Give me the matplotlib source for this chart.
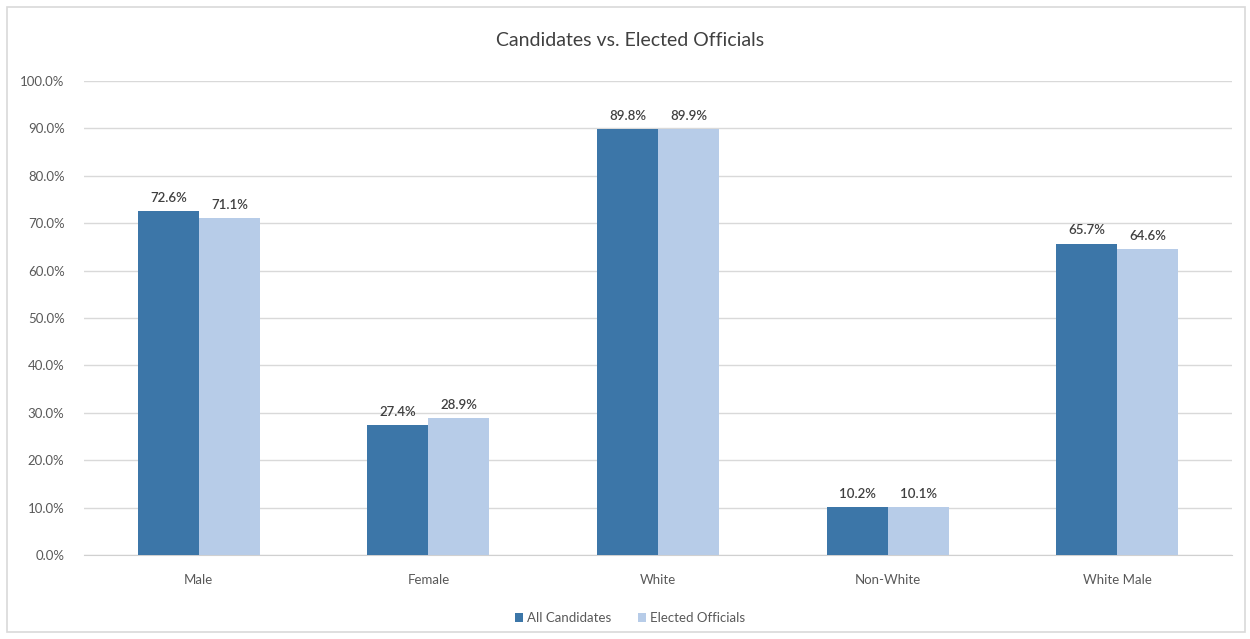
import numpy as np
import matplotlib.pyplot as plt
from matplotlib.patches import Rectangle

plt.rcParams['font.family'] = ['Lato', 'DejaVu Sans']

categories = ["Male", "Female", "White", "Non-White", "White Male"]
all_candidates = [72.6, 27.4, 89.8, 10.2, 65.7]
elected_officials = [71.1, 28.9, 89.9, 10.1, 64.6]

dark = "#3c76a8"
light = "#b7cce8"
text_col = "#595959"

fig = plt.figure(figsize=(12.5, 6.39), dpi=100)
fig.patches.append(Rectangle((7 / 1250, 7 / 639), 1238 / 1250, 625 / 639,
                             transform=fig.transFigure, fill=False,
                             edgecolor="#d9d9d9", linewidth=1.2))

ax = fig.add_axes([84 / 1250, 1 - 555 / 639, 1148 / 1250, 474 / 639])

x = np.arange(len(categories))
w = 0.266
b1 = ax.bar(x - w / 2, all_candidates, w, color=dark, label="All Candidates", zorder=3)
b2 = ax.bar(x + w / 2, elected_officials, w, color=light, label="Elected Officials", zorder=3)

# value labels above each bar
for bars, vals in ((b1, all_candidates), (b2, elected_officials)):
    for r, v in zip(bars, vals):
        ax.text(r.get_x() + r.get_width() / 2, v + 1.5, f"{v:.1f}%",
                ha="center", va="bottom", fontsize=9.5, color="#404040",
                fontweight="semibold")

ax.set_xlim(-0.5, len(categories) - 0.5)
ax.set_ylim(0, 100)
ax.set_yticks(np.arange(0, 101, 10))
ax.set_yticklabels([f"{t:.1f}%" for t in np.arange(0, 101, 10)])
ax.set_xticks(x)
ax.set_xticklabels(categories)
ax.tick_params(length=0, labelsize=9.5, colors=text_col)
ax.tick_params(axis="y", pad=14)
ax.tick_params(axis="x", pad=14)
ax.grid(axis="y", color="#d9d9d9", linewidth=1, zorder=0)
for s in ("top", "right", "left"):
    ax.spines[s].set_visible(False)
ax.spines["bottom"].set_color("#d0d0d0")

fig.text(630 / 1250, 1 - 40 / 639, "Candidates vs. Elected Officials",
         ha="center", va="center", fontsize=14, color="#404040")

fig.legend(loc="center", bbox_to_anchor=(630 / 1250, 1 - 618 / 639), ncol=2,
           frameon=False, fontsize=9.5, handlelength=0.6, handleheight=0.6,
           handletextpad=0.3, columnspacing=2.0, labelcolor=text_col)

plt.savefig("out.png", dpi=100)
